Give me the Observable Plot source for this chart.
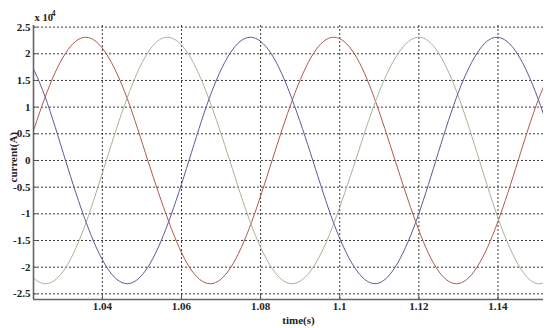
<!DOCTYPE html>
<html><head><meta charset="utf-8">
<script src="https://cdn.jsdelivr.net/npm/d3@7"></script>
<script src="https://cdn.jsdelivr.net/npm/@observablehq/plot@0.6"></script>
<style>html,body{margin:0;padding:0;background:#fff}#chart svg{display:block}</style>
</head><body><div id="chart"></div>
<script>
// axis settings (current in units of 10^4 A)
const xDomain = [1.0226, 1.1515];
const yDomain = [-2.606, 2.53];
const xTicks = [1.04, 1.06, 1.08, 1.1, 1.12, 1.14];
const yTicks = [-2.5, -2, -1.5, -1, -0.5, 0, 0.5, 1, 1.5, 2, 2.5];
const seriesNames = ["phase A", "phase B", "phase C"];
const seriesColors = ["#b05a50", "#a3b797", "#64569a"];

// phase A (red)
const redT = [1.0202, 1.0254, 1.0306, 1.0358, 1.0410, 1.0463, 1.0515, 1.0568, 1.0620, 1.0673, 1.0725, 1.0777, 1.0829, 1.0881, 1.0933, 1.0985, 1.1037, 1.1088, 1.1140, 1.1192, 1.1243, 1.1295, 1.1347, 1.1399, 1.1451, 1.1503, 1.1555];
const redV = [0.0, 1.16, 2.0, 2.31, 2.0, 1.16, 0.0, -1.15, -2.0, -2.31, -2.0, -1.16, 0.0, 1.15, 2.0, 2.31, 2.0, 1.16, 0.0, -1.15, -2.0, -2.31, -2.0, -1.16, 0.0, 1.16, 2.0];
// phase B (green)
const greenT = [1.0153, 1.0205, 1.0257, 1.0308, 1.0359, 1.0410, 1.0462, 1.0513, 1.0564, 1.0617, 1.0669, 1.0722, 1.0774, 1.0827, 1.0879, 1.0933, 1.0986, 1.1040, 1.1093, 1.1147, 1.1200, 1.1251, 1.1302, 1.1353, 1.1404, 1.1455, 1.1506, 1.1557];
const greenV = [-1.16, -2.0, -2.31, -2.0, -1.16, 0.0, 1.16, 2.0, 2.31, 2.0, 1.16, 0.0, -1.16, -2.0, -2.31, -2.0, -1.16, 0.0, 1.16, 2.0, 2.31, 2.0, 1.16, 0.0, -1.16, -2.0, -2.31, -2.0];
// phase C (blue)
const blueT = [1.0151, 1.0203, 1.0255, 1.0307, 1.0359, 1.0411, 1.0463, 1.0515, 1.0567, 1.0619, 1.0670, 1.0722, 1.0774, 1.0827, 1.0879, 1.0932, 1.0984, 1.1037, 1.1089, 1.1140, 1.1192, 1.1243, 1.1294, 1.1346, 1.1397, 1.1449, 1.1501, 1.1553];
const blueV = [2.31, 2.0, 1.2, 0.0, -1.16, -2.0, -2.31, -2.0, -1.16, 0.0, 1.16, 2.0, 2.31, 2.0, 1.16, 0.0, -1.16, -2.0, -2.31, -2.0, -1.16, 0.0, 1.16, 2.0, 2.31, 2.0, 1.16, 0.0];

const rows = [];
[[redT, redV], [greenT, greenV], [blueT, blueV]].forEach(([ts, vs], i) => {
  ts.forEach((t, j) => rows.push({series: seriesNames[i], t, v: vs[j]}));
});

const font = "'Liberation Serif', 'Times New Roman', serif";
const gridStyle = {stroke: "#3a3a3a", strokeOpacity: 1, strokeWidth: 1, strokeDasharray: "2,2"};

const chart = Plot.plot({
  width: 550, height: 328,
  marginLeft: 33, marginRight: 7, marginTop: 25, marginBottom: 29,
  style: {fontFamily: font, fontWeight: "bold", fontSize: "11px", background: "#fff", color: "#222", overflow: "visible"},
  x: {domain: xDomain},
  y: {domain: yDomain},
  color: {domain: seriesNames, range: seriesColors},
  marks: [
    Plot.gridX(xTicks, gridStyle),
    Plot.gridY(yTicks, gridStyle),
    Plot.line(rows, {x: "t", y: "v", z: "series", stroke: "series", curve: "natural", strokeWidth: 1, clip: true}),
    Plot.ruleX([xDomain[0]], {stroke: "#666", strokeWidth: 1.6}),
    Plot.ruleY([yDomain[0]], {stroke: "#666", strokeWidth: 1.6}),
    Plot.axisX(xTicks, {tickSize: 0, tickPadding: 3, tickFormat: d => String(d), label: null, fill: "#222"}),
    Plot.axisX(xTicks, {tickSize: 4, dy: -4, tickFormat: () => "", label: null, stroke: "#555"}),
    Plot.axisY(yTicks, {tickSize: 0, tickPadding: 3, tickFormat: d => String(d), label: null, fill: "#222"}),
    Plot.axisY(yTicks, {tickSize: 4, dx: 4, tickFormat: () => "", label: null, stroke: "#555"}),
    Plot.text(["time(s)"], {frameAnchor: "bottom", dx: 10, dy: 24, fontSize: 11, fontWeight: "bold", fill: "#222"}),
    Plot.text(["current(A)"], {frameAnchor: "left", dx: -20, dy: 20, rotate: -90, fontSize: 11, fontWeight: "bold", fill: "#222"}),
    Plot.text(["x 10"], {frameAnchor: "top-left", textAnchor: "start", lineAnchor: "bottom", dx: 1, dy: -5, fontSize: 10.5, fontWeight: "bold", fill: "#222"}),
    Plot.text(["4"], {frameAnchor: "top-left", textAnchor: "start", lineAnchor: "bottom", dx: 18, dy: -10, fontSize: 8, fontWeight: "bold", fill: "#222"})
  ]
});
document.getElementById("chart").appendChild(chart);
</script>
</body></html>
